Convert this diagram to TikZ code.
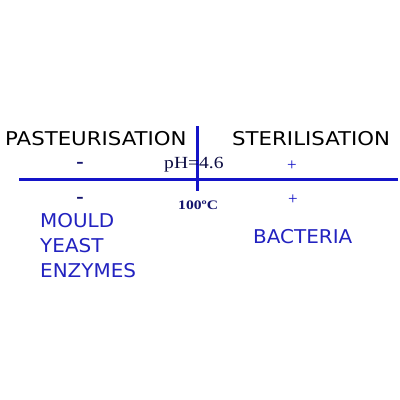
\documentclass[tikz,border=0pt]{standalone}
\usepackage{fontspec}
\setmainfont{Liberation Serif}
\setsansfont{DejaVu Sans}
\definecolor{lineblue}{HTML}{1414C8}
\definecolor{txtblue}{HTML}{2222C0}
\definecolor{navy}{HTML}{14146E}
\begin{document}
\begin{tikzpicture}[x=1pt,y=-1pt,
  title/.style={font=\sffamily\fontsize{19}{21}\selectfont, text=black, inner sep=0pt, anchor=base west, xscale=1.12},
  item/.style={font=\sffamily\fontsize{19}{22}\selectfont, text=txtblue, inner sep=0pt, anchor=base west, xscale=1.05},
  sign/.style={font=\bfseries\fontsize{22}{24}\selectfont, text=navy, inner sep=0pt},
  plus/.style={font=\fontsize{17}{19}\selectfont, text=lineblue, inner sep=0pt},
  axis/.style={draw=lineblue, line width=3pt}]
\useasboundingbox[fill=white] (0,0) rectangle (400,400);
\node[title] (past) at (5,145) {PASTEURISATION};
\node[title] (ster) at (232,145) {STERILISATION};
\coordinate (hl) at (19,179);
\coordinate (hr) at (398,179);
\coordinate (vt) at (197,126);
\coordinate (vb) at (197,191);
\draw[axis] (hl) -- (hr);
\draw[axis] (vt) -- (vb);
\node[sign] (m1) at (80,165) {-};
\node[sign] (m2) at (80,200) {-};
\node[plus] (p1) at (292,166) {+};
\node[plus] (p2) at (293,200) {+};
\node[font=\fontsize{17}{19}\selectfont, text=navy!60!black, inner sep=0pt, anchor=base west, xscale=1.15] (ph) at (164,168) {pH=4.6};
\node[font=\bfseries\fontsize{13}{15}\selectfont, text=navy, inner sep=0pt, anchor=base west, xscale=1.2] (t100) at (178,209) {100ºC};
\node[item] (mould) at (40,227) {MOULD};
\node[item] (yeast) at (40,252) {YEAST};
\node[item] (enz) at (40,277) {ENZYMES};
\node[item] (bact) at (253,243) {BACTERIA};
\end{tikzpicture}
\end{document}
